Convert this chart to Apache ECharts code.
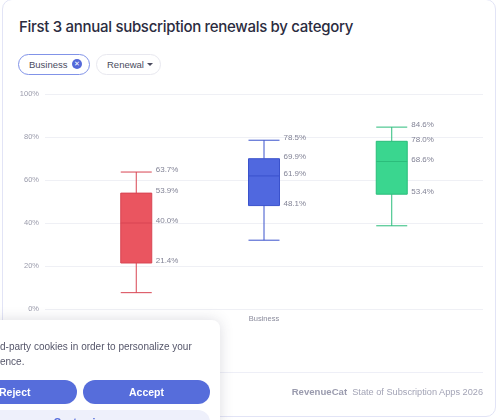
<!DOCTYPE html>
<html>
<head>
<meta charset="utf-8">
<script src="https://cdn.jsdelivr.net/npm/echarts@6/dist/echarts.min.js"></script>
<style>
  html, body { margin: 0; padding: 0; background: #fff; }
  body { width: 500px; height: 420px; position: relative; overflow: hidden; font-family: "Liberation Sans", Arial, sans-serif; }
  .card { position: absolute; left: 2px; top: -1px; width: 494px; height: 418px; border: 1px solid #e2e4f6; border-radius: 10px; box-sizing: border-box; }
  .title { position: absolute; left: 19px; top: 17px; font-family: Inter, sans-serif; font-size: 15px; font-weight: 500; color: #2b2c40; letter-spacing: -0.3px; }
  .chip { position: absolute; top: 54px; height: 21px; border-radius: 11px; box-sizing: border-box; font-size: 9.5px; color: #4a4b5e; line-height: 19px; }
  .chip1 { left: 18px; width: 72px; border: 1px solid #8193e8; padding-left: 10px; }
  .chip1 .x { position: absolute; left: 53px; top: 4px; width: 10px; height: 10px; border-radius: 50%; background: #5468d9; color: #fff; font-size: 7px; line-height: 10px; text-align: center; }
  .chip2 { left: 96px; width: 65px; border: 1px solid #e8e8ef; padding-left: 10px; }
  .chip2 .arr { position: absolute; left: 50px; top: 8px; width: 0; height: 0; border-left: 3px solid transparent; border-right: 3px solid transparent; border-top: 3px solid #4a4b5e; }
  #chart { position: absolute; left: 0; top: 0; width: 500px; height: 420px; }
  .sep { position: absolute; left: 18px; top: 372px; width: 465px; height: 1px; background: #eeeff7; }
  .footer { position: absolute; right: 17px; top: 386px; font-size: 9.2px; color: #a3a4b6; }
  .footer b { font-size: 9.6px; font-weight: 700; color: #9a9bae; }
  .cookie { position: absolute; left: -10px; top: 320px; width: 230px; height: 110px; background: #fff; border-radius: 8px; box-shadow: 0 0 14px rgba(60,60,90,0.18); }
  .cookie .txt { position: absolute; left: 10px; top: 19px; font-size: 10px; color: #55566a; line-height: 15px; white-space: nowrap; }
  .btn { position: absolute; top: 60px; height: 24px; border-radius: 12px; background: #566ddb; color: #fff; font-size: 10.5px; font-weight: 700; text-align: center; line-height: 24px; }
  .reject { left: -40px; width: 127px; }
  .reject span { position: absolute; left: 49px; }
  .accept { left: 93px; width: 127px; }
  .cust { position: absolute; left: -40px; top: 90px; width: 260px; height: 24px; border-radius: 12px; background: #eef0fb; color: #566ddb; font-size: 10.5px; font-weight: 700; text-align: center; line-height: 24px; }
</style>
</head>
<body>
<div class="card"></div>
<div class="title">First 3 annual subscription renewals by category</div>
<div class="chip chip1">Business<span class="x">✕</span></div>
<div class="chip chip2">Renewal<span class="arr"></span></div>
<div id="chart"></div>
<div class="sep"></div>
<div class="footer"><b>RevenueCat</b>&nbsp; State of Subscription Apps 2026</div>
<div class="cookie">
  <div class="txt">d-party cookies in order to personalize your<br>ence.</div>
  <div class="btn reject"><span>Reject</span></div>
  <div class="btn accept">Accept</div>
  <div class="cust">Customize</div>
</div>
<script>
// data: [min, Q1, median, Q3, max] per renewal
const categories = ['Business'];
const renewalNames = ['Renewal 1', 'Renewal 2', 'Renewal 3'];
const renewal1 = [7.6, 21.4, 40.0, 53.9, 63.7];
const renewal2 = [32.0, 48.1, 61.9, 69.9, 78.5];
const renewal3 = [38.7, 53.4, 68.6, 78.0, 84.6];
const yTicks = [0, 20, 40, 60, 80, 100];

const boxes = [renewal1, renewal2, renewal3];
const fills = ['#ea5560', '#5068df', '#3ad68f'];
const borders = ['#d84452', '#3a52cc', '#2bbd7b'];
const labelShift = [-108.75, 19, 146.75];

const chart = echarts.init(document.getElementById('chart'));

const series = [];
boxes.forEach(function (b, i) {
  series.push({
    name: renewalNames[i],
    type: 'boxplot',
    boxWidth: [31, 31],
    silent: true,
    itemStyle: { color: fills[i], borderColor: borders[i], borderWidth: 1 },
    data: [b]
  });
});
boxes.forEach(function (b, i) {
  series.push({
    type: 'scatter',
    silent: true,
    symbolSize: 1,
    itemStyle: { color: 'rgba(0,0,0,0)' },
    label: {
      show: true,
      position: 'right',
      distance: 0,
      offset: [labelShift[i], -2],
      color: '#62637a',
      fontSize: 8,
      fontFamily: 'Liberation Sans',
      formatter: function (p) { return p.value[1].toFixed(1) + '%'; }
    },
    data: b.slice(1).map(function (v) { return [categories[0], v]; })
  });
});

chart.setOption({
  animation: false,
  grid: { left: 45, right: 17, top: 94, bottom: 111 },
  xAxis: {
    type: 'category',
    data: categories,
    axisLine: { show: false },
    axisTick: { show: false },
    axisLabel: { color: '#8a8b9c', fontSize: 7.5, fontFamily: 'Liberation Sans', margin: 6 }
  },
  yAxis: {
    type: 'value',
    min: 0,
    max: 100,
    interval: 20,
    axisLine: { show: false },
    axisTick: { show: false },
    splitLine: { lineStyle: { color: '#eff0f5' } },
    axisLabel: {
      color: '#9a9bab',
      fontSize: 7.5,
      fontFamily: 'Liberation Sans',
      margin: 6,
      formatter: function (v) { return yTicks.indexOf(v) >= 0 ? v + '%' : ''; }
    }
  },
  series: series
});
</script>
</body>
</html>
